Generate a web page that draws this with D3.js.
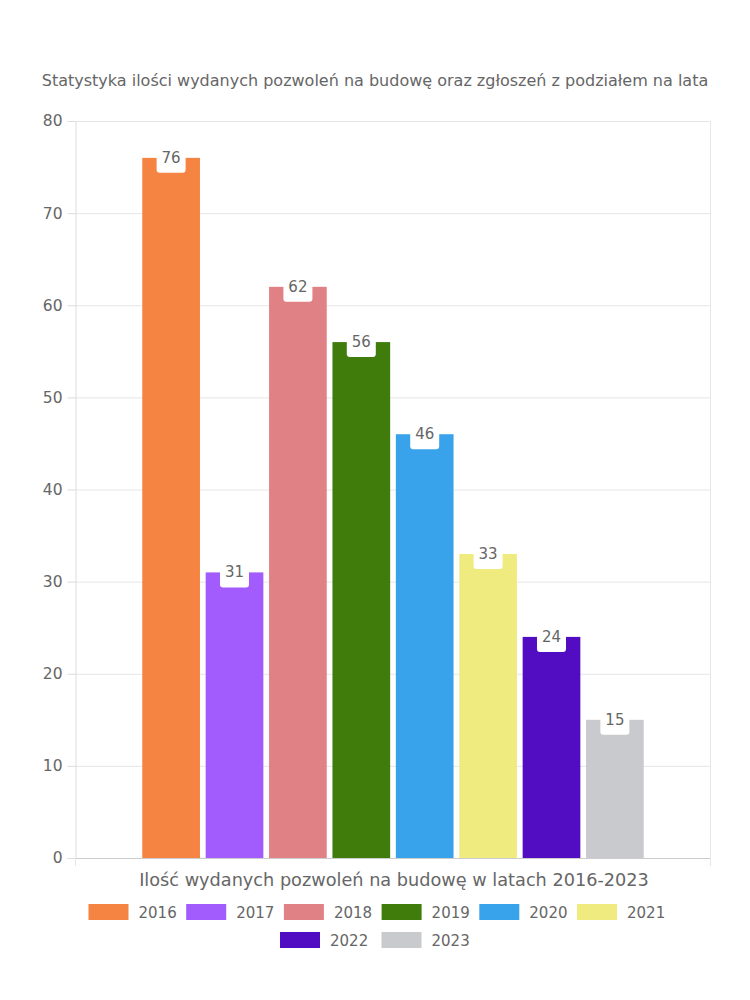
<!DOCTYPE html>
<html><head><meta charset="utf-8">
<script src="https://cdn.jsdelivr.net/npm/d3@7"></script>
<style>body{margin:0;background:#fff}svg{display:block}text{font-family:"DejaVu Sans",sans-serif;fill:#666}</style>
</head><body><svg id="c" width="750" height="1000"></svg>
<script>
const years = ["2016","2017","2018","2019","2020","2021","2022","2023"];
const values = [76,31,62,56,46,33,24,15];
const colors = ["#F58442","#A25BFC","#E08285","#3F7C0C","#38A2EA","#F0EB7F","#520DC2","#C9CACD"];
const yTicks = [0,10,20,30,40,50,60,70,80];
const title = "Statystyka ilości wydanych pozwoleń na budowę oraz zgłoszeń z podziałem na lata";
const xTitle = "Ilość wydanych pozwoleń na budowę w latach 2016-2023";

const svg = d3.select("#c");
const L=75,R=710,T=121,B=858;
const y = d3.scaleLinear().domain([0,80]).range([B,T]);
const x = d3.scaleBand().domain(years).range([141,645]).paddingInner(0.09).paddingOuter(0.02);

// grid
svg.append("g").selectAll("line").data(yTicks).join("line")
  .attr("x1",L).attr("x2",R).attr("y1",d=>y(d)+0.5).attr("y2",d=>y(d)+0.5)
  .attr("stroke",d=>d===0?"#ccc":"#e6e6e6");
// y axis
const ya = svg.append("g").attr("transform",`translate(${L+0.5},0)`)
  .call(d3.axisLeft(y).tickValues(yTicks).tickSize(8).tickPadding(5));
ya.select(".domain").attr("stroke","#ddd");
ya.selectAll(".tick line").attr("stroke","#ddd");
ya.selectAll("text").style("font-size","15.5px").attr("fill","#666");
// right border + bottom ticks
svg.append("line").attr("x1",R+0.5).attr("x2",R+0.5).attr("y1",T).attr("y2",B+8).attr("stroke","#e6e6e6");
svg.append("line").attr("x1",L+0.5).attr("x2",L+0.5).attr("y1",B).attr("y2",B+8).attr("stroke","#e6e6e6");

// bars
svg.append("g").selectAll("rect").data(values).join("rect")
  .attr("x",(d,i)=>x(years[i])).attr("width",x.bandwidth())
  .attr("y",d=>y(d)).attr("height",d=>B-y(d)).attr("fill",(d,i)=>colors[i]);

// labels
const lg = svg.append("g").selectAll("g").data(values).join("g")
  .attr("transform",(d,i)=>`translate(${x(years[i])+x.bandwidth()/2},${y(d)})`);
lg.append("rect").attr("x",-14.5).attr("y",-3).attr("width",29).attr("height",18).attr("rx",3).attr("fill","#fff");
lg.append("text").attr("text-anchor","middle").attr("y",5).text(d=>d).style("font-size","15px").attr("fill","#666");

// titles
svg.append("text").attr("x",375).attr("y",86).attr("text-anchor","middle").text(title).style("font-size","16px");
svg.append("text").attr("x",394).attr("y",886).attr("text-anchor","middle").text(xTitle).style("font-size","17.7px");

// legend
const rows=[[0,1,2,3,4,5],[6,7]];
const starts=[88.5,280];
const steps=[97.7,101.5];
rows.forEach((r,ri)=>{
  r.forEach((idx,j)=>{
    const gx = starts[ri]+j*steps[ri], gy = ri===0?912:940;
    svg.append("rect").attr("x",gx).attr("y",gy-8).attr("width",40).attr("height",16).attr("fill",colors[idx]);
    svg.append("text").attr("x",gx+50).attr("y",gy+5.5).text(years[idx]).style("font-size","15px");
  });
});
</script></body></html>
